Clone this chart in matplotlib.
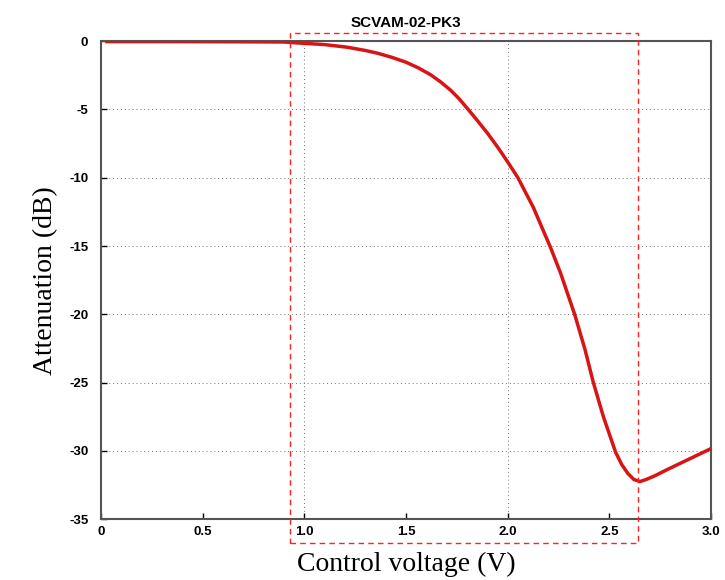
import numpy as np
import matplotlib
matplotlib.use("Agg")
import matplotlib.pyplot as plt
from matplotlib.patches import Rectangle

plt.rcParams["axes.unicode_minus"] = False

# kurva
volt = [0.03, 0.3, 0.6, 0.9, 0.99, 1.1, 1.21, 1.3, 1.36, 1.43, 1.50, 1.56, 1.62,
        1.67, 1.72, 1.76, 1.80, 1.85, 1.90, 1.95, 2.0, 2.05, 2.125, 2.21, 2.26,
        2.33, 2.38, 2.42, 2.47, 2.53, 2.56, 2.59, 2.62, 2.65, 2.68, 2.72, 2.78,
        2.85, 2.92, 2.99]
atten = [-0.03, -0.03, -0.04, -0.06, -0.15, -0.25, -0.44, -0.68, -0.88, -1.18,
         -1.54, -1.95, -2.45, -2.98, -3.6, -4.2, -4.9, -5.8, -6.73, -7.75, -8.85,
         -10.0, -12.15, -15.1, -17.0, -20.06, -22.6, -24.96, -27.5, -30.1, -31.0,
         -31.65, -32.1, -32.25, -32.1, -31.85, -31.4, -30.9, -30.4, -29.9]

xticks = [0, 0.5, 1.0, 1.5, 2.0, 2.5, 3.0]
xticklabels = ["0", "0.5", "1.0", "1.5", "2.0", "2.5", "3.0"]
yticks = [0, -5, -10, -15, -20, -25, -30, -35]
ruta = [0.93, 2.64, -36.76, 0.59]  # x0, x1, y0, y1 för den streckade rutan

fig = plt.figure(figsize=(7.25, 5.8), dpi=100)
ax = fig.add_axes([0.139, 0.105, 0.842, 0.824])

# gridlinjer (prickade)
for y in yticks[1:-1]:
    ax.axhline(y, color="black", linestyle=(0, (1, 3)), linewidth=0.7, alpha=0.55, zorder=1)
for x in [1.0, 2.0]:
    ax.axvline(x, color="black", linestyle=(0, (1, 3)), linewidth=0.7, alpha=0.55, zorder=1)

ax.plot(volt, atten, color="#d81414", linewidth=2.5, zorder=3)

ax.set_xlim(0, 3.0)
ax.set_ylim(-35, 0)
ax.set_xticks(xticks)
ax.set_xticklabels(xticklabels)
ax.set_yticks(yticks)
ax.tick_params(direction="in", length=4, width=1, labelsize=9.5)
ax.tick_params(axis="y", pad=9)
ax.tick_params(axis="x", pad=5)
for lab in ax.get_xticklabels() + ax.get_yticklabels():
    lab.set_fontweight("bold")
    lab.set_family("Liberation Sans")
for s in ax.spines.values():
    s.set_color("#555555")
    s.set_linewidth(1.5)

ax.set_title("SCVAM-02-PK3", fontsize=11, fontweight="bold", family="Liberation Sans", pad=10)
ax.set_xlabel("Control voltage (V)", fontsize=20, family="Liberation Serif", labelpad=10)
ax.set_ylabel("Attenuation (dB)", fontsize=20, family="Liberation Serif", labelpad=8)

# streckad rektangel runt området 0.93-2.64 V
rect = Rectangle((ruta[0], ruta[2]), ruta[1] - ruta[0], ruta[3] - ruta[2],
                 fill=False, edgecolor="#ff2020", linestyle=(0, (4, 3)),
                 linewidth=1.0, clip_on=False, zorder=4)
ax.add_patch(rect)

fig.savefig("out.png", dpi=100)
